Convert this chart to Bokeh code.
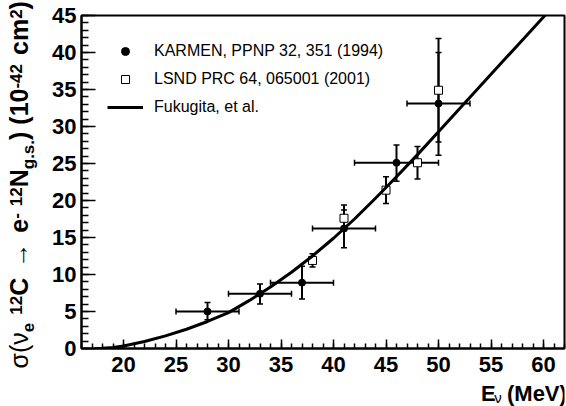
from math import pi
from bokeh.plotting import figure
from bokeh.layouts import row, column
from bokeh.core.properties import value
from bokeh.models import (Range1d, SingleIntervalTicker, Whisker, TeeHead,
                          ColumnDataSource, Legend, LegendItem)
from bokeh.embed import file_html
from bokeh.resources import INLINE

# ---------------- data ----------------
karmen_E = [28, 33, 37, 41, 46, 50]
karmen_sigma = [5.0, 7.4, 8.9, 16.2, 25.1, 33.1]
karmen_E_lo = [25, 30, 34, 38, 42, 47]
karmen_E_hi = [31, 36, 40, 44, 50, 53]
karmen_sig_lo = [3.9, 6.0, 6.7, 13.6, 22.6, 26.1]
karmen_sig_hi = [6.2, 8.7, 11.1, 19.4, 27.5, 41.9]

lsnd_E = [38, 41, 45, 48, 50]
lsnd_sigma = [11.9, 17.6, 21.4, 25.1, 34.9]
lsnd_sig_lo = [11.0, 16.5, 19.6, 22.9, 27.9]
lsnd_sig_hi = [12.8, 18.7, 23.2, 27.3, 40.0]

fuk_E = [17.3, 18, 19, 20, 22, 24, 26, 28, 30, 32, 33, 34, 36, 38, 40, 42,
         44, 46, 48, 50, 52, 54, 56, 58, 60, 62]
fuk_sigma = [0.0, 0.04, 0.15, 0.35, 0.95, 1.7, 2.6, 3.65, 4.85, 6.5, 7.4, 8.3,
             10.3, 12.5, 14.9, 17.5, 20.3, 23.2, 26.2, 29.3, 32.4, 35.5, 38.6,
             41.7, 44.8, 47.9]

x_ticks_interval = 5
y_ticks_interval = 5

legend_labels = ["KARMEN, PPNP 32, 351 (1994)",
                 "LSND PRC 64, 065001 (2001)",
                 "Fukugita, et al."]

FONT = "Liberation Sans"

# ---------------- layout geometry (page px) ----------------
TOTAL_W, TOTAL_H = 566, 406
YT_W = 38                    # width of the strip holding the y title
MAIN_W = TOTAL_W - YT_W      # 528
MAIN_H = 381
XT_H = TOTAL_H - MAIN_H      # 25
FRAME_L, FRAME_R, FRAME_T, FRAME_B = 81, 564, 15, 348
MID = 0.36                   # baseline offset of "middle" anchored text, in em


def blank_fig(w, h):
    f = figure(width=w, height=h, x_range=Range1d(0, w), y_range=Range1d(0, h),
               x_axis_type=None, y_axis_type=None, output_backend="svg",
               toolbar_location=None, min_border=0, outline_line_color=None,
               background_fill_color="white", border_fill_color="white")
    f.xgrid.visible = False
    f.ygrid.visible = False
    return f


# ---------------- main figure ----------------
p = figure(width=MAIN_W, height=MAIN_H, x_range=Range1d(16, 62),
           y_range=Range1d(0, 45), output_backend="svg", toolbar_location=None,
           min_border_left=FRAME_L - YT_W, min_border_right=TOTAL_W - FRAME_R,
           min_border_top=FRAME_T, min_border_bottom=MAIN_H - FRAME_B)
p.xgrid.visible = False
p.ygrid.visible = False
p.outline_line_color = "black"
p.outline_line_width = 2
p.outline_line_alpha = 1.0
p.background_fill_color = "white"
p.border_fill_color = "white"

p.xaxis.ticker = SingleIntervalTicker(interval=x_ticks_interval, num_minor_ticks=5)
p.yaxis.ticker = SingleIntervalTicker(interval=y_ticks_interval, num_minor_ticks=5)
for ax in (p.xaxis[0], p.yaxis[0]):
    ax.axis_line_width = 2
    ax.axis_line_color = "black"
    ax.major_tick_out = 0
    ax.minor_tick_out = 0
    ax.major_tick_line_width = 1.5
    ax.minor_tick_line_width = 1.5
    ax.major_tick_line_color = "black"
    ax.minor_tick_line_color = "black"
    ax.major_label_text_font = FONT
    ax.major_label_text_font_style = "bold"
    ax.major_label_text_font_size = "22px"
    ax.major_label_text_color = "black"
p.xaxis.major_tick_in = 9
p.xaxis.minor_tick_in = 5
p.xaxis.major_label_standoff = 8
p.yaxis.major_tick_in = 14
p.yaxis.minor_tick_in = 7
p.yaxis.major_label_standoff = 5

# ---------------- error bars ----------------
src_k = ColumnDataSource(dict(E=karmen_E, s=karmen_sigma, Elo=karmen_E_lo,
                              Ehi=karmen_E_hi, slo=karmen_sig_lo, shi=karmen_sig_hi))
src_l = ColumnDataSource(dict(E=lsnd_E, s=lsnd_sigma, slo=lsnd_sig_lo, shi=lsnd_sig_hi))


def head():
    return TeeHead(size=6, line_width=1.5, line_color="black")


p.add_layout(Whisker(source=src_k, base="E", lower="slo", upper="shi",
                     dimension="height", line_width=2, line_color="black",
                     upper_head=head(), lower_head=head()))
p.add_layout(Whisker(source=src_k, base="s", lower="Elo", upper="Ehi",
                     dimension="width", line_width=2, line_color="black",
                     upper_head=head(), lower_head=head()))
p.add_layout(Whisker(source=src_l, base="E", lower="slo", upper="shi",
                     dimension="height", line_width=2, line_color="black",
                     upper_head=head(), lower_head=head()))

# ---------------- marks ----------------
k_sc = p.scatter("E", "s", source=src_k, marker="circle", size=7,
                 fill_color="black", line_color="black")
l_sc = p.scatter("E", "s", source=src_l, marker="square", size=8,
                 fill_color="white", line_color="black", line_width=1)
f_ln = p.line(fuk_E, fuk_sigma, line_width=3, line_color="black")

legend = Legend(items=[LegendItem(label=legend_labels[0], renderers=[k_sc]),
                       LegendItem(label=legend_labels[1], renderers=[l_sc]),
                       LegendItem(label=legend_labels[2], renderers=[f_ln])],
                location="top_left", margin=16, padding=10, spacing=8,
                glyph_width=36, glyph_height=20, label_height=20,
                label_standoff=11, label_text_font=FONT,
                label_text_font_size="16px", label_text_color="black",
                border_line_alpha=0, background_fill_alpha=0)
p.add_layout(legend)

# ---------------- axis titles (pieced text for sub/superscripts) ----------------
EM = {'0': .556, '1': .556, '2': .556, '4': .556, 'C': .722, 'N': .722,
      'e': .556, ' ': .278, '(': .333, ')': .333, 'c': .556, 'm': .889,
      '.': .278, 'g': .611, 's': .556, '-': .333, 'E': .667, 'M': .833,
      'V': .667, 'σ': .60, 'ν': .52, '→': 1.0}


def tw(s, size):
    return sum(EM.get(ch, .556) for ch in s) * size


def put_text(f, x, y, text, size, style, angle=0.0):
    f.text(x=[x], y=[y], text=[text], angle=angle,
           text_font=value(FONT), text_font_size=value(f"{size}px"),
           text_font_style=value(style), text_color="black",
           text_align=value("left"), text_baseline=value("middle"))


# y title strip: page x in [0, YT_W], page y in [0, TOTAL_H]
yfig = blank_fig(YT_W, TOTAL_H)
MAIN, SCR = 25, 17
# (text, size, style, baseline shift toward glyph-top, gap after)
ypieces = [("σ(ν", MAIN, "normal", 0, 0),
           ("e", SCR, "bold", -7, 8),
           ("12", SCR, "bold", 5, 0),
           ("C", MAIN, "bold", 0, 10),
           ("→", MAIN, "normal", 0, 10),
           ("e", MAIN, "bold", 0, 0),
           ("-", SCR, "bold", 5, 7),
           ("12", SCR, "bold", 5, 0),
           ("N", MAIN, "bold", 0, 0),
           ("g.s.", SCR, "bold", -7, 0),
           (") (10", MAIN, "bold", 0, 0),
           ("-42", SCR, "bold", 5, 9),
           ("cm", MAIN, "bold", 0, 0),
           ("2", SCR, "bold", 5, 0),
           (")", MAIN, "bold", 0, 0)]
base_x = 27          # page x of the main baseline (glyphs extend to the left)
pos = 368            # page y where the title starts (bottom end)
for text, size, style, shift, gap in ypieces:
    anchor_x = base_x - shift - MID * size
    put_text(yfig, anchor_x, TOTAL_H - pos, text, size, style, angle=pi / 2)
    pos -= tw(text, size) + gap

# x title strip: page x in [YT_W, TOTAL_W], page y in [MAIN_H, TOTAL_H]
xfig = blank_fig(MAIN_W, XT_H)
xpieces = [("E", 22, "bold", 0, 0), ("ν", 15, "normal", -1, 6),
           ("(MeV)", 22, "bold", 0, 0)]
total = sum(tw(t, s) + g for t, s, _, _, g in xpieces)
cx = 563 - total
base_y = 401.1
for text, size, style, shift, gap in xpieces:
    anchor_y = base_y - shift - MID * size
    put_text(xfig, cx - YT_W, TOTAL_H - anchor_y, text, size, style)
    cx += tw(text, size) + gap

layout = row(yfig, column(p, xfig, spacing=0), spacing=0)

open("out.html", "w").write(file_html(layout, INLINE))
